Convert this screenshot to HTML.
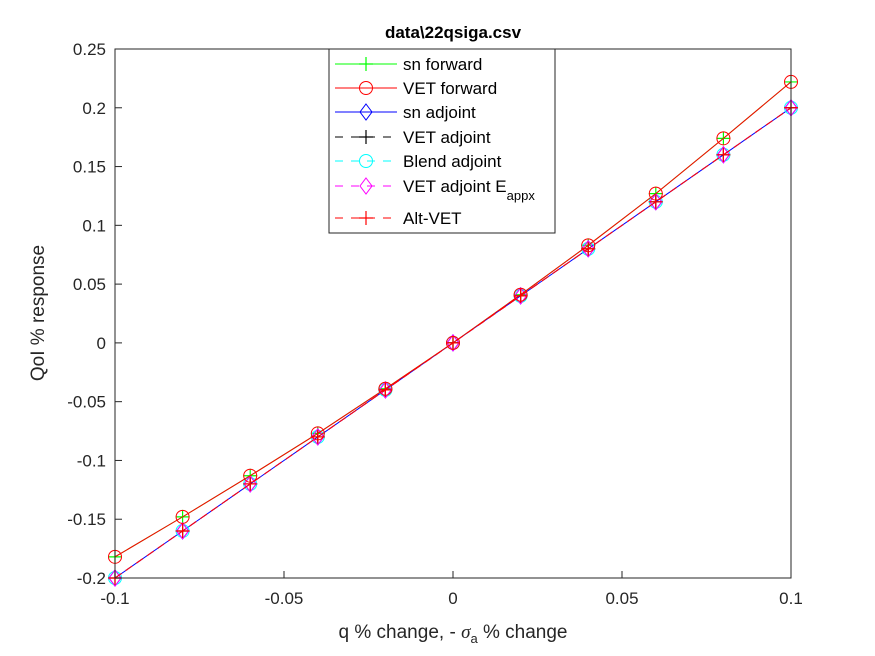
<!DOCTYPE html>
<html><head><meta charset="utf-8"><style>
body{margin:0;background:#fff}
svg{display:block;font-family:"Liberation Sans",Arial,sans-serif}
</style></head><body>
<svg id="chart" width="875" height="656" viewBox="0 0 875 656" xmlns="http://www.w3.org/2000/svg">
<rect width="875" height="656" fill="#fff"/>
<text x="453" y="38" text-anchor="middle" font-size="17" font-weight="bold" fill="#000">data\22qsiga.csv</text>
<g id="plot"></g>
<rect x="115" y="49" width="676" height="529" fill="none" stroke="#262626" stroke-width="1"/>
<g id="ticks" font-size="17" fill="#262626"></g>
<text x="453" y="638" text-anchor="middle" font-size="19" fill="#262626">q % change, - <tspan font-family="Liberation Serif" font-style="italic">σ</tspan><tspan font-size="13" dy="5">a</tspan><tspan dy="-5"> % change</tspan></text>
<text transform="translate(44,313) rotate(-90)" text-anchor="middle" font-size="19" fill="#262626">QoI % response</text>
<g id="legend">
<rect x="329" y="49" width="226" height="184" fill="#fff" stroke="#262626" stroke-width="1"/>
</g>
</svg>
<script>
const xValues=[-0.1,-0.08,-0.06,-0.04,-0.02,0,0.02,0.04,0.06,0.08,0.1];
const forwardValues=[-0.182,-0.148,-0.113,-0.077,-0.039,0,0.041,0.083,0.127,0.174,0.222];
const adjointValues=[-0.2,-0.16,-0.12,-0.08,-0.04,0,0.04,0.08,0.12,0.16,0.2];
const xTicks=[-0.1,-0.05,0,0.05,0.1];
const xTickLabels=["-0.1","-0.05","0","0.05","0.1"];
const yTicks=[-0.2,-0.15,-0.1,-0.05,0,0.05,0.1,0.15,0.2,0.25];
const yTickLabels=["-0.2","-0.15","-0.1","-0.05","0","0.05","0.1","0.15","0.2","0.25"];
const seriesNames=["sn forward","VET forward","sn adjoint","VET adjoint","Blend adjoint","VET adjoint Eappx","Alt-VET"];

const NS="http://www.w3.org/2000/svg";
const X=v=>115+(v+0.1)/0.2*676;
const Y=v=>578-(v+0.2)/0.45*529;
function mk(tag,attrs,parent){const e=document.createElementNS(NS,tag);for(const k in attrs)e.setAttribute(k,attrs[k]);parent.appendChild(e);return e;}
const plot=document.getElementById('plot'),ticks=document.getElementById('ticks'),legend=document.getElementById('legend');

xTicks.forEach((t,i)=>{
  const l=mk('line',{x1:X(t),x2:X(t),y1:578,y2:571,stroke:'#262626'},ticks);
  
  
  const tx=mk('text',{x:X(t),y:604,'text-anchor':'middle'},ticks);tx.textContent=xTickLabels[i];
  
  
});
yTicks.forEach((t,i)=>{
  const l=mk('line',{x1:115,x2:122,y1:Y(t),y2:Y(t),stroke:'#262626'},ticks);
  
  
  const tx=mk('text',{x:106,y:Y(t)+6,'text-anchor':'end'},ticks);tx.textContent=yTickLabels[i];
  
  
});

function marker(type,x,y,color,g){
  if(type==='plus'){mk('path',{d:`M${x-7} ${y}H${x+7}M${x} ${y-7}V${y+7}`,stroke:color,'stroke-width':1.2,fill:'none'},g);}
  else if(type==='circle'){mk('circle',{cx:x,cy:y,r:6.5,stroke:color,fill:'none','stroke-width':1},g);}
  else if(type==='diamond'){mk('path',{d:`M${x} ${y-8}L${x+6} ${y}L${x} ${y+8}L${x-6} ${y}Z`,stroke:color,fill:'none','stroke-width':1},g);}
}
const styles=[
 {data:forwardValues,color:'#00ff00',dash:null,m:'plus'},
 {data:forwardValues,color:'#ff0000',dash:null,m:'circle'},
 {data:adjointValues,color:'#0000ff',dash:null,m:'diamond'},
 {data:adjointValues,color:'#000000',dash:'8 5',m:'plus'},
 {data:adjointValues,color:'#00ffff',dash:'8 5',m:'circle'},
 {data:adjointValues,color:'#ff00ff',dash:'8 5',m:'diamond'},
 {data:adjointValues,color:'#ff0000',dash:'8 5',m:'plus'}
];
const drawOrder=[0,2,3,4,5,6,1];
drawOrder.forEach(si=>{
  const s=styles[si];
  const g=mk('g',{},plot);
  
  
  const pts=xValues.map((x,i)=>X(x)+','+Y(s.data[i])).join(' ');
  const attrs={points:pts,fill:'none',stroke:s.color,'stroke-width':1};
  if(s.dash)attrs['stroke-dasharray']=s.dash;
  mk('polyline',attrs,g);
  xValues.forEach((x,i)=>marker(s.m,X(x),Y(s.data[i]),s.color,g));
});

const rowY=[64,88,112,137,161,186,218];
styles.forEach((s,i)=>{
  const g=mk('g',{},legend);
  
  
  const a={x1:335,x2:397,y1:rowY[i],y2:rowY[i],stroke:s.color,'stroke-width':1};
  if(s.dash)a['stroke-dasharray']='8 8';
  mk('line',a,g);
  marker(s.m,366,rowY[i],s.color,g);
  const t=mk('text',{x:403,y:rowY[i]+6,'font-size':17,fill:'#000'},g);
  if(i===5){t.textContent='VET adjoint E';const sp=mk('tspan',{dy:8,'font-size':13},t);sp.textContent='appx';}
  else t.textContent=seriesNames[i];
});
</script>
</body></html>
